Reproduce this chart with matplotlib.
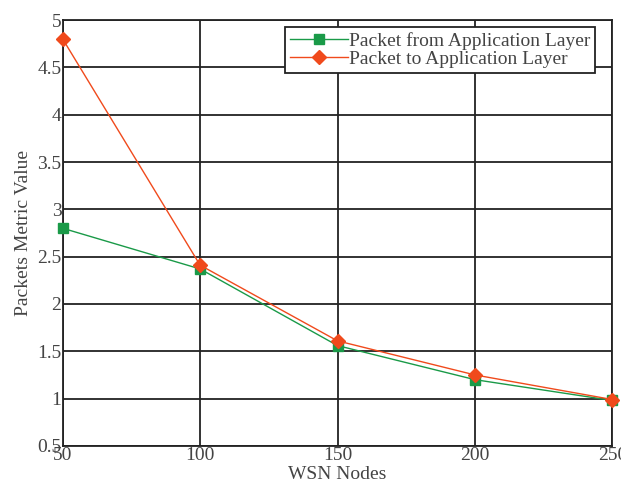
import matplotlib
matplotlib.use('Agg')
from matplotlib import pyplot as plt

nodes = [50, 100, 150, 200, 250]
pkt_from_app = [2.8, 2.37, 1.56, 1.2, 0.98]
pkt_to_app = [4.8, 2.41, 1.61, 1.25, 0.99]

plt.rcParams['font.family'] = ['Liberation Serif', 'DejaVu Serif']

fig = plt.figure(figsize=(6.21, 4.9), dpi=100)
ax = fig.add_axes([0.101, 0.090, 0.885, 0.869])

ax.plot(nodes, pkt_from_app, color='#1a9a48', marker='s', markersize=7, linewidth=1.0,
        label='Packet from Application Layer', clip_on=False, zorder=3)
ax.plot(nodes, pkt_to_app, color='#f04a1c', marker='D', markersize=7, linewidth=1.0,
        label='Packet to Application Layer', clip_on=False, zorder=3)

ax.set_xlim(50, 250)
ax.set_ylim(0.5, 5)
ax.set_xticks([50, 100, 150, 200, 250])
ax.set_yticks([0.5, 1, 1.5, 2, 2.5, 3, 3.5, 4, 4.5, 5])
ax.set_yticklabels(['0.5', '1', '1.5', '2', '2.5', '3', '3.5', '4', '4.5', '5'])
ax.grid(True, color='#222222', linewidth=1.3)
ax.set_axisbelow(True)
ax.tick_params(length=0, labelsize=14, colors='#444444', pad=1)
for s in ax.spines.values():
    s.set_color('#222222')
    s.set_linewidth(1.3)

ax.set_xlabel('WSN Nodes', fontsize=14, color='#444444', labelpad=1)
ax.set_ylabel('Packets Metric Value', fontsize=14, color='#444444', labelpad=4)

leg = ax.legend(loc='upper right', bbox_to_anchor=(0.969, 0.984), fontsize=14,
                fancybox=False, framealpha=1, edgecolor='#222222', borderpad=0.25,
                handlelength=3.0, handletextpad=0.05, labelspacing=0.05, borderaxespad=0)
leg.get_frame().set_linewidth(1.3)
for t in leg.get_texts():
    t.set_color('#444444')

plt.savefig('out.png', dpi=100)
